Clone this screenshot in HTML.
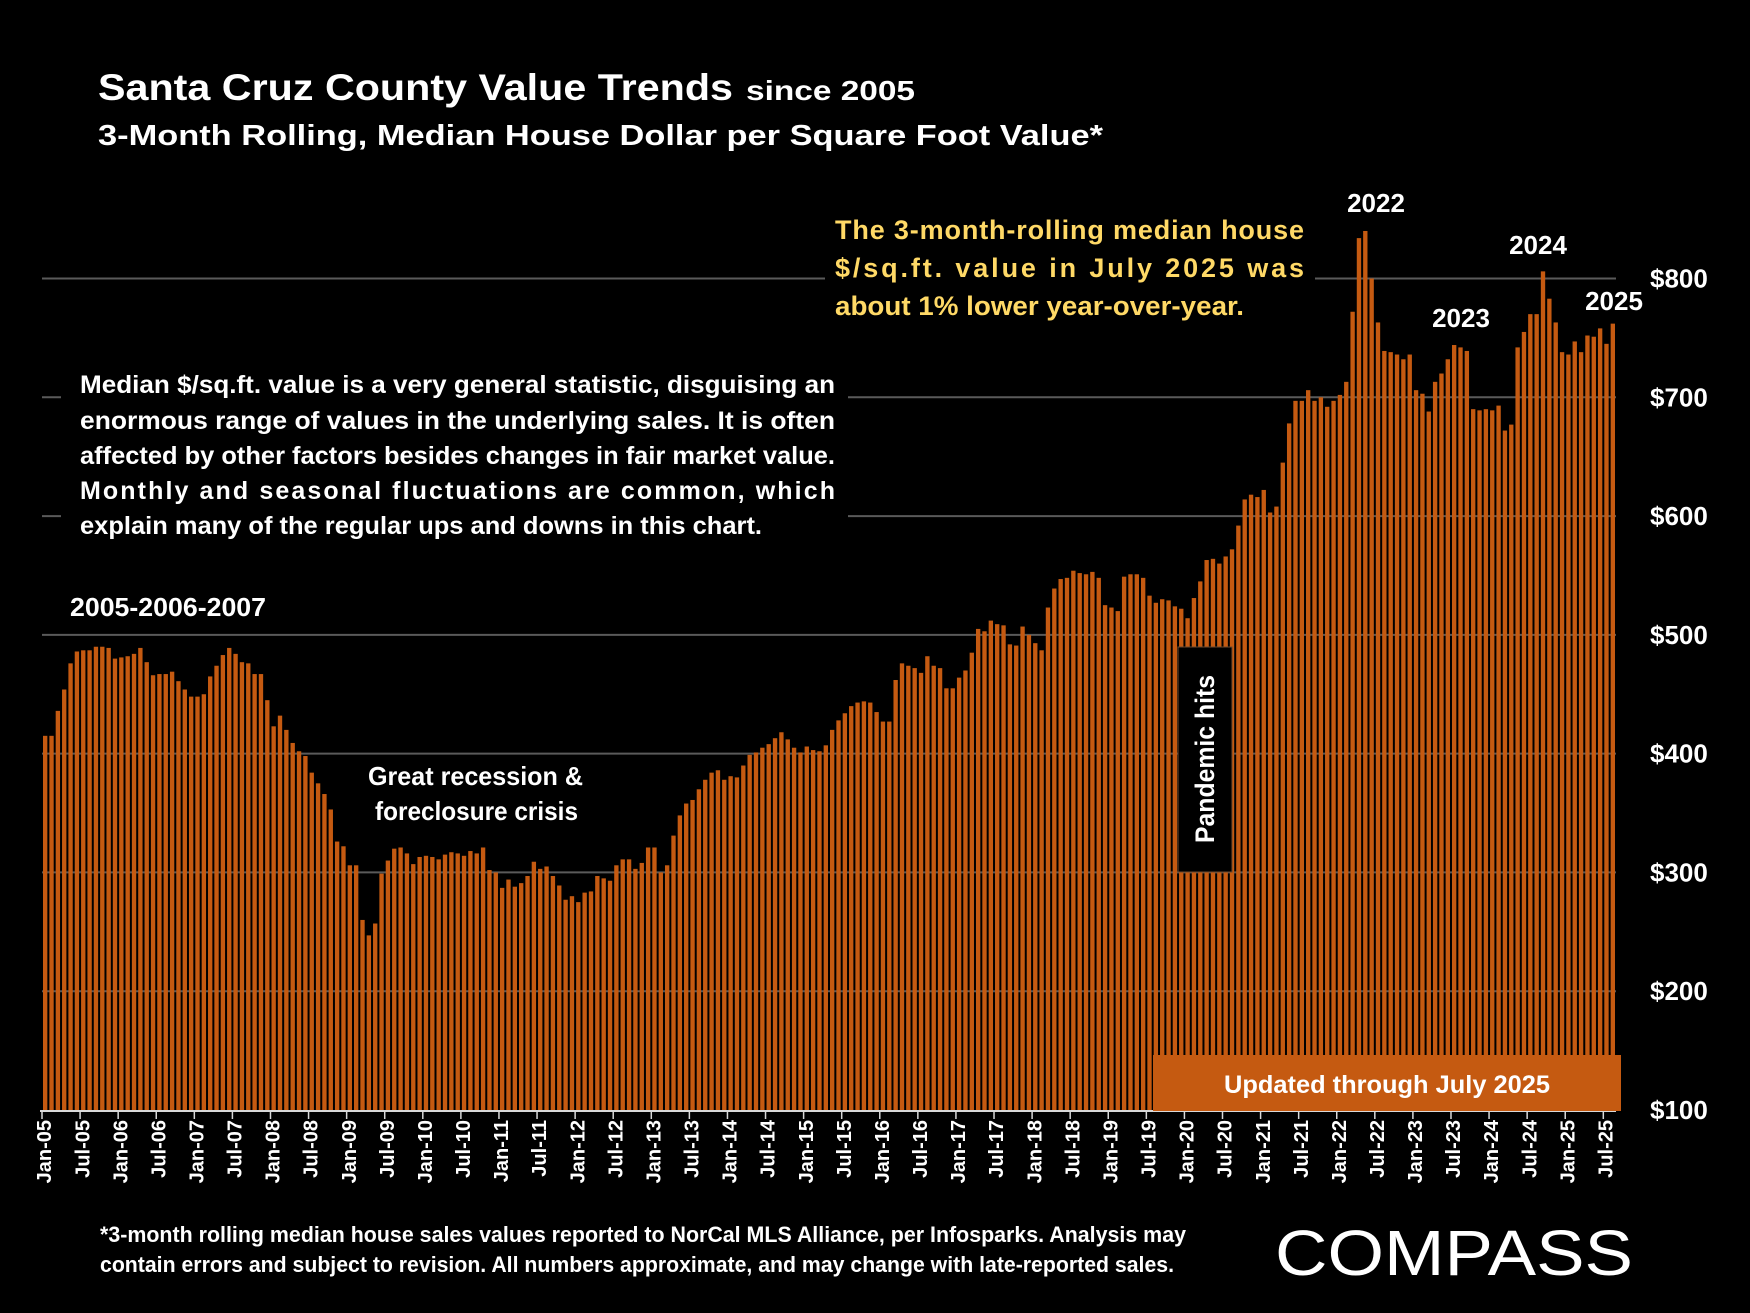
<!DOCTYPE html>
<html><head><meta charset="utf-8"><style>
html,body{margin:0;padding:0;background:#000;}
svg{display:block;}
text{font-family:"Liberation Sans",sans-serif;font-weight:bold;fill:#fff;}
</style></head><body>
<svg id="chart" width="1750" height="1313" viewBox="0 0 1750 1313">
<rect x="0" y="0" width="1750" height="1313" fill="#000"/>
<g id="grid"></g>
<g id="bars"></g>
<g id="axis"></g>
<g id="yaxis"></g>

<text x="98" y="100" font-size="37" textLength="635" lengthAdjust="spacingAndGlyphs">Santa Cruz County Value Trends</text>
<text x="746" y="100" font-size="28" textLength="169" lengthAdjust="spacingAndGlyphs">since 2005</text>
<text x="98" y="145" font-size="29" textLength="1005" lengthAdjust="spacingAndGlyphs">3-Month Rolling, Median House Dollar per Square Foot Value*</text>

<rect x="825" y="205" width="490" height="128" fill="#000"/>
<g font-size="27">
<text x="835" y="239" textLength="469" lengthAdjust="spacing" style="fill:#FFD966">The 3-month-rolling median house</text>
<text x="835" y="277" textLength="469" lengthAdjust="spacing" style="fill:#FFD966">$/sq.ft. value in July 2025 was</text>
<text x="835" y="315" textLength="409" lengthAdjust="spacingAndGlyphs" style="fill:#FFD966">about 1% lower year-over-year.</text>
</g>

<rect x="61" y="368" width="787" height="192" fill="#000"/>
<g font-size="25">
<text x="80" y="393" textLength="755" lengthAdjust="spacingAndGlyphs">Median $/sq.ft. value is a very general statistic, disguising an</text>
<text x="80" y="429" textLength="755" lengthAdjust="spacingAndGlyphs">enormous range of values in the underlying sales. It is often</text>
<text x="80" y="464" textLength="755" lengthAdjust="spacingAndGlyphs">affected by other factors besides changes in fair market value.</text>
<text x="80" y="499" textLength="755" lengthAdjust="spacing">Monthly and seasonal fluctuations are common, which</text>
<text x="80" y="534" textLength="682" lengthAdjust="spacingAndGlyphs">explain many of the regular ups and downs in this chart.</text>
</g>

<text x="70" y="616" font-size="26" textLength="196" lengthAdjust="spacingAndGlyphs">2005-2006-2007</text>
<text x="368" y="785" font-size="26" textLength="215" lengthAdjust="spacingAndGlyphs">Great recession &amp;</text>
<text x="375" y="820" font-size="26" textLength="203" lengthAdjust="spacingAndGlyphs">foreclosure crisis</text>
<text x="1376" y="212" font-size="26" text-anchor="middle">2022</text>
<text x="1461" y="327" font-size="26" text-anchor="middle">2023</text>
<text x="1538" y="254" font-size="26" text-anchor="middle">2024</text>
<text x="1614" y="310" font-size="26" text-anchor="middle">2025</text>

<rect x="1178" y="647" width="54" height="225" fill="#000" stroke="#6b4a30" stroke-width="1"/>
<text x="0" y="0" font-size="27" text-anchor="middle" dominant-baseline="central" transform="translate(1205,759) rotate(-90)" textLength="168" lengthAdjust="spacingAndGlyphs">Pandemic hits</text>

<rect x="1153" y="1055" width="468" height="56" fill="#C55A11"/>
<text x="1387" y="1093" font-size="25" text-anchor="middle" textLength="326" lengthAdjust="spacingAndGlyphs">Updated through July 2025</text>

<g font-size="22">
<text x="100" y="1242" textLength="1086" lengthAdjust="spacingAndGlyphs">*3-month rolling median house sales values reported to NorCal MLS Alliance, per Infosparks. Analysis may</text>
<text x="100" y="1272" textLength="1074" lengthAdjust="spacingAndGlyphs">contain errors and subject to revision. All numbers approximate, and may change with late-reported sales.</text>
</g>
<text x="1275" y="1275" font-size="64" style="font-weight:normal" textLength="358" lengthAdjust="spacingAndGlyphs">COMPASS</text>
</svg>
<script>
const values = [415,415,436,454,476,486,487,487,490,490,489,480,481,482,484,489,477,466,467,467,469,461,454,448,448,450,465,474,483,489,484,477,476,467,467,445,423,432,420,409,402,398,384,375,366,353,326,322,306,306,
260,247,257,299,310,320,321,316,307,313,314,313,311,315,317,316,314,318,316,321,302,300,287,294,288,291,297,309,303,305,297,289,277,280,275,283,284,297,295,293,306,311,311,303,308,321,321,300,306,331,
348,358,361,370,378,384,386,378,381,380,390,399,401,405,408,413,418,412,405,401,406,403,402,407,420,428,434,440,443,444,443,435,427,427,462,476,474,472,468,482,474,472,455,455,464,470,485,505,503,512,
509,508,492,491,507,500,493,487,523,539,547,548,554,552,551,553,548,525,523,520,549,551,551,548,533,527,530,529,524,522,514,531,545,563,564,560,566,572,592,614,618,616,622,603,608,645,678,697,697,706,
697,700,692,697,702,713,772,834,840,800,763,739,738,736,732,736,706,703,688,713,720,732,744,742,739,690,689,690,689,693,672,677,742,755,770,770,806,783,763,738,736,747,738,752,751,758,745,762];
const yTicks = [100,200,300,400,500,600,700,800];
const yTickLabels = ['$100','$200','$300','$400','$500','$600','$700','$800'];
const xTickLabels = ['Jan-05','Jul-05','Jan-06','Jul-06','Jan-07','Jul-07','Jan-08','Jul-08','Jan-09','Jul-09','Jan-10','Jul-10','Jan-11','Jul-11','Jan-12','Jul-12','Jan-13','Jul-13','Jan-14','Jul-14','Jan-15','Jul-15','Jan-16','Jul-16','Jan-17','Jul-17','Jan-18','Jul-18','Jan-19','Jul-19','Jan-20','Jul-20','Jan-21','Jul-21','Jan-22','Jul-22','Jan-23','Jul-23','Jan-24','Jul-24','Jan-25','Jul-25'];

const NS='http://www.w3.org/2000/svg';
const X0=42, X1=1616, Y0=1110, YTOP=278.5;
const band=(X1-X0)/values.length;
function xScale(i){return X0+i*band;}
function yScale(v){return Y0-(v-100)*(Y0-YTOP)/700;}
function mk(tag,attrs,parent){const e=document.createElementNS(NS,tag);for(const k in attrs)e.setAttribute(k,attrs[k]);parent.appendChild(e);return e;}

const grid=document.getElementById('grid');
yTicks.forEach((t,i)=>{ if(t===100) return;
  const l=mk('line',{x1:X0,x2:1616,y1:yScale(t),y2:yScale(t),stroke:'#5a5a5a','stroke-width':2},grid);
  
  
});
const yaxis=document.getElementById('yaxis');
yTicks.forEach((t,i)=>{
  const tx=mk('text',{x:1650,y:yScale(t),'font-size':26,'dominant-baseline':'central'},yaxis);
  tx.textContent=yTickLabels[i];
  
  
});
const bars=document.getElementById('bars');
values.forEach((v,i)=>{
  const r=mk('rect',{x:xScale(i)+1,y:yScale(v),width:band-2,height:Y0-yScale(v),fill:'#C55A11'},bars);
  
  
});
const axis=document.getElementById('axis');
const al=mk('line',{x1:X0-2,x2:1616,y1:Y0+1,y2:Y0+1,stroke:'#d9d9d9','stroke-width':2},axis);


xTickLabels.forEach((lab,k)=>{
  const i=k*6;
  const tk=mk('line',{x1:xScale(i),x2:xScale(i),y1:Y0,y2:Y0+9,stroke:'#d9d9d9','stroke-width':1.5},axis);
  
  
  const cx=xScale(i)+band/2;
  const tx=mk('text',{x:0,y:0,'font-size':20,'text-anchor':'end','dominant-baseline':'central',transform:`translate(${cx},1120) rotate(-90)`},axis);
  tx.textContent=lab;
  
  
});
</script>
</body></html>
